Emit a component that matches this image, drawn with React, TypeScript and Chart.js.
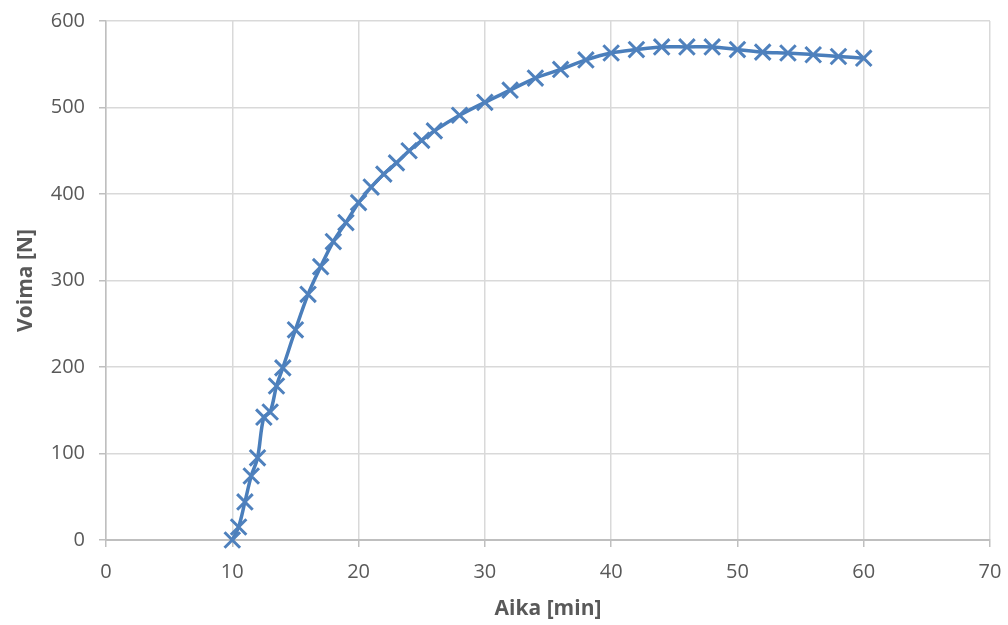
import React, { useEffect, useRef } from "react";
import { Chart, registerables } from "chart.js";

Chart.register(...registerables);

const timeMin: number[] = [10, 10.5, 11, 11.5, 12, 12.5, 13, 13.5, 14, 15, 16, 17, 18, 19, 20, 21, 22, 23, 24, 25, 26, 28, 30, 32, 34, 36, 38, 40, 42, 44, 46, 48, 50, 52, 54, 56, 58, 60];
const forceN: number[] = [0, 15, 44, 74, 95, 142, 148, 178, 199, 243, 284, 316, 345, 367, 390, 408, 423, 436, 450, 462, 473, 491, 506, 520, 534, 544, 555, 563, 567, 570, 570, 570, 567, 564, 563, 561, 559, 557];

const xTitle = "Aika [min]";
const yTitle = "Voima [N]";

const FONT = "'Open Sans', sans-serif";
const TEXT = "#595959";

export default function App() {
  const ref = useRef<HTMLCanvasElement | null>(null);
  useEffect(() => {
    document.body.style.margin = "0";
    const ctx = ref.current!;
    const chart = new Chart(ctx, {
      type: "line",
      data: {
        datasets: [
          {
            data: timeMin.map((x, i) => ({ x, y: forceN[i] })),
            borderColor: "#4a7ebb",
            backgroundColor: "#4a7ebb",
            borderWidth: 3.5,
            tension: 0.35,
            pointStyle: "crossRot",
            pointRadius: 11,
            pointBorderWidth: 3,
            pointBorderColor: "#4f81bd",
            clip: false,
          },
        ],
      },
      options: {
        animation: false,
        responsive: false,
        maintainAspectRatio: false,
        layout: { autoPadding: false, padding: { left: 0, right: 18, top: 21, bottom: 0 } },
        plugins: { legend: { display: false }, tooltip: { enabled: false } },
        scales: {
          x: {
            type: "linear",
            min: 0,
            max: 70,
            ticks: { stepSize: 10, color: TEXT, font: { family: FONT, size: 20 }, padding: 13 },
            grid: { color: "#d9d9d9", lineWidth: 1.5, tickLength: 7, tickColor: "#bfbfbf" },
            border: { color: "#bfbfbf", width: 2 },
            title: { display: true, text: xTitle, color: TEXT, font: { family: FONT, size: 21, weight: "bold" }, padding: { bottom: 3, top: 0 } },
            afterFit: (s: any) => { s.height = 85; s.paddingLeft = 0; s.paddingRight = 0; },
          },
          y: {
            min: 0,
            max: 600,
            ticks: { stepSize: 100, color: TEXT, font: { family: FONT, size: 20 }, padding: 14 },
            grid: { color: "#d9d9d9", lineWidth: 1.5, tickLength: 7, tickColor: "#bfbfbf" },
            border: { color: "#bfbfbf", width: 1.5 },
            title: { display: true, text: yTitle, color: TEXT, font: { family: FONT, size: 21, weight: "bold" }, padding: { top: 13, bottom: 0 } },
            afterFit: (s: any) => { s.width = 106; s.paddingTop = 0; s.paddingBottom = 0; },
          },
        },
      },
    });
    return () => chart.destroy();
  }, []);
  return (
    <div style={{ width: 1008, height: 625, background: "#fff" }}>
      <canvas ref={ref} width={1008} height={625} style={{ display: "block" }} />
    </div>
  );
}
